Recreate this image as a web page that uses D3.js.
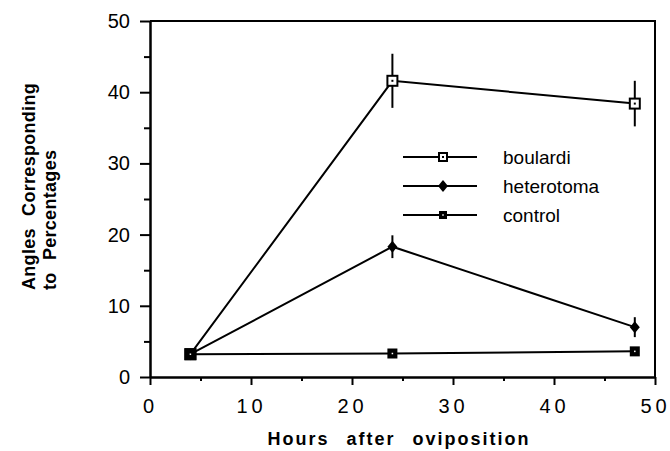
<!DOCTYPE html>
<html>
<head>
<meta charset="utf-8">
<script src="https://cdn.jsdelivr.net/npm/d3@7"></script>
<style>
  body { margin: 0; background: #fff; }
  svg { display: block; }
  text { font-family: "Liberation Sans", Arial, Helvetica, sans-serif; fill: #000; }
</style>
</head>
<body>
<script>
// data
const hours = [4, 24, 48];
const boulardi = [3.2, 41.6, 38.4];
const boulardiErr = [0, 3.8, 3.2];
const heterotoma = [3.2, 18.3, 7.0];
const heterotomaErr = [0, 1.6, 1.4];
const control = [3.2, 3.3, 3.6];
const controlErr = [0, 0, 0];
const seriesNames = ['boulardi', 'heterotoma', 'control'];
const xTicks = [0, 10, 20, 30, 40, 50];
const xMinor = [5, 15, 25, 35, 45];
const yTicks = [0, 10, 20, 30, 40, 50];
const yMinor = [5, 15, 25, 35, 45];

const width = 670;
const height = 451;

const svg = d3.select('body')
  .append('svg')
  .attr('width', width)
  .attr('height', height);

// scales
const x = d3.scaleLinear().domain([0, 50]).range([150, 655]);
const y = d3.scaleLinear().domain([0, 50]).range([377, 21]);

// axes
const xAxis = svg.append('g')
  .attr('transform', `translate(0,${y(0)})`)
  .call(d3.axisBottom(x).tickValues(xTicks).tickSize(8).tickSizeOuter(0).tickFormat(d3.format('d')));
xAxis.selectAll('text')
  .attr('y', 22)
  .attr('dx', '0px')
  .style('font-size', '20px')
  .style('letter-spacing', '4px');

svg.append('g')
  .attr('transform', `translate(0,${y(0)})`)
  .call(d3.axisBottom(x).tickValues(xMinor).tickSize(4).tickSizeOuter(0).tickFormat(''));

const yAxis = svg.append('g')
  .attr('transform', `translate(${x(0)},0)`)
  .call(d3.axisLeft(y).tickValues(yTicks).tickSize(10).tickSizeOuter(0).tickFormat(d3.format('d')));
yAxis.selectAll('text')
  .attr('x', -20)
  .style('font-size', '20px');

svg.append('g')
  .attr('transform', `translate(${x(0)},0)`)
  .call(d3.axisLeft(y).tickValues(yMinor).tickSize(6).tickSizeOuter(0).tickFormat(''));

svg.selectAll('.domain').attr('stroke-width', 2).attr('stroke', '#000');
svg.selectAll('.tick line').attr('stroke-width', 2).attr('stroke', '#000');
svg.selectAll('.tick text').attr('font-family', null).attr('font-size', null);

// frame top and right
svg.append('path')
  .attr('d', `M${x(0)},${y(50)}H${x(50)}V${y(0)}`)
  .attr('fill', 'none')
  .attr('stroke', '#000')
  .attr('stroke-width', 2);

// axis titles
svg.append('text')
  .attr('x', 399)
  .attr('y', 445)
  .attr('text-anchor', 'middle')
  .style('font-size', '18px')
  .style('font-weight', 'bold')
  .style('letter-spacing', '2px')
  .style('word-spacing', '10px')
  .text('Hours after oviposition');

const yTitle = svg.append('text')
  .attr('transform', 'translate(35,290) rotate(-90)')
  .style('font-size', '18px')
  .style('font-weight', 'bold')
  .style('letter-spacing', '0.3px')
  .style('word-spacing', '7px');
yTitle.append('tspan').attr('x', 0).attr('y', 0).text('Angles Corresponding');
yTitle.append('tspan').attr('x', 0).attr('y', 21).text('to Percentages');

// series
const line = d3.line().x(d => x(d[0])).y(d => y(d[1]));
const makeData = (vals, errs) => hours.map((h, i) => [h, vals[i], errs[i]]);
const series = [
  { name: 'boulardi', data: makeData(boulardi, boulardiErr), shape: 'open' },
  { name: 'heterotoma', data: makeData(heterotoma, heterotomaErr), shape: 'diamond' },
  { name: 'control', data: makeData(control, controlErr), shape: 'square' }
];

function drawMarker(g, shape, s) {
  if (shape === 'open') {
    g.append('rect').attr('x', -s / 2).attr('y', -s / 2).attr('width', s).attr('height', s)
      .attr('fill', '#fff').attr('stroke', '#000').attr('stroke-width', 2);
    g.append('rect').attr('x', -1).attr('y', -1).attr('width', 2).attr('height', 2).attr('fill', '#000');
  } else if (shape === 'diamond') {
    const w = s / 2, h = s * 0.6;
    g.append('path').attr('d', `M0,${-h}L${w},0L0,${h}L${-w},0Z`).attr('fill', '#000');
  } else {
    g.append('rect').attr('x', -s / 2).attr('y', -s / 2).attr('width', s).attr('height', s).attr('fill', '#000');
    g.append('rect').attr('x', -0.75).attr('y', -0.75).attr('width', 1.5).attr('height', 1.5).attr('fill', '#fff');
  }
}

series.forEach(s => {
  svg.append('path')
    .datum(s.data)
    .attr('d', line)
    .attr('fill', 'none')
    .attr('stroke', '#000')
    .attr('stroke-width', 2);

  // error bars
  svg.selectAll(null)
    .data(s.data.filter(d => d[2] > 0))
    .enter()
    .append('line')
    .attr('x1', d => x(d[0]))
    .attr('x2', d => x(d[0]))
    .attr('y1', d => y(d[1] + d[2]))
    .attr('y2', d => y(d[1] - d[2]))
    .attr('stroke', '#000')
    .attr('stroke-width', 2);
});

// markers drawn last, control on top at the first point
series.forEach(s => {
  s.data.forEach((d, i) => {
    const g = svg.append('g').attr('transform', `translate(${x(d[0])},${y(d[1])})`);
    const size = (s.shape === 'square' && i === 0) ? 12 : 10;
    drawMarker(g, s.shape, size);
  });
});

// legend
const legend = svg.selectAll('.legend')
  .data(series)
  .enter()
  .append('g')
  .attr('class', 'legend')
  .attr('transform', (d, i) => `translate(403,${157 + i * 29})`);

legend.append('line')
  .attr('x1', 0).attr('x2', 74)
  .attr('stroke', '#000')
  .attr('stroke-width', 2);

legend.each(function (d) {
  const g = d3.select(this).append('g').attr('transform', 'translate(40,0)');
  drawMarker(g, d.shape, d.shape === 'diamond' ? 10 : 8);
});

legend.append('text')
  .attr('x', 100)
  .attr('dy', '0.35em')
  .style('font-size', '19px')
  .text(d => d.name);
</script>
</body>
</html>
